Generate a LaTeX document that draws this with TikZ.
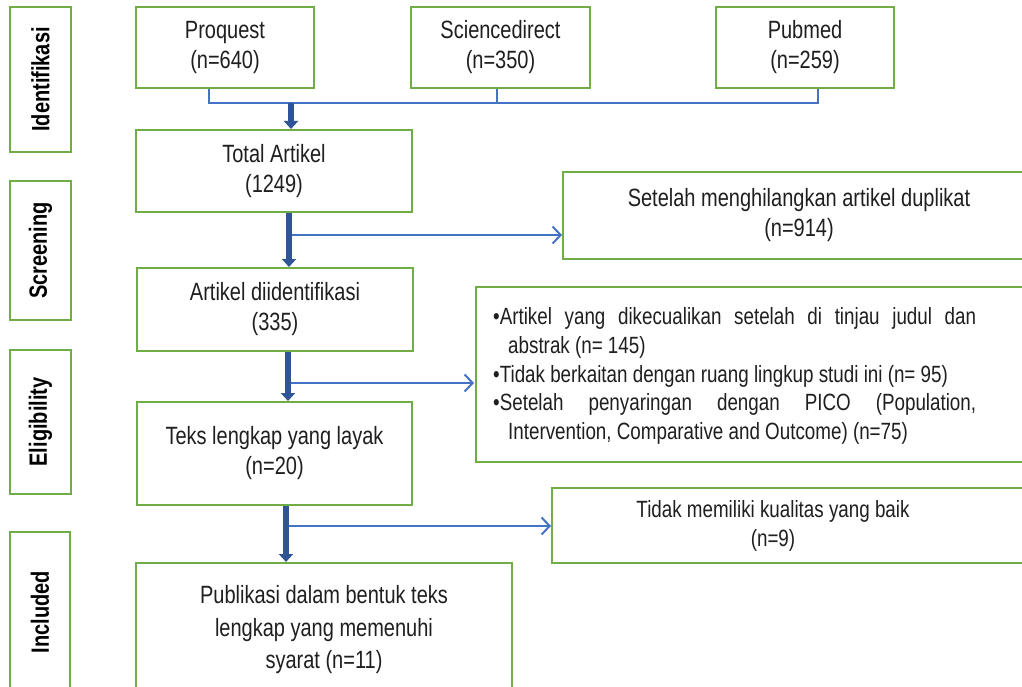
\documentclass[tikz,border=0pt]{standalone}
\usepackage{fontspec}
\setmainfont{Liberation Sans}[FakeStretch=0.8]
\usetikzlibrary{arrows.meta}
\definecolor{boxgreen}{HTML}{70AD47}
\definecolor{lineblue}{HTML}{4472C4}
\definecolor{darkblue}{HTML}{2F5597}
\definecolor{txt}{HTML}{1F1F1F}
\begin{document}
\begin{tikzpicture}[x=1pt,y=-1pt,
 box/.style={draw=boxgreen, line width=2pt, rectangle, inner sep=0pt, align=center, text=txt, font=\fontsize{25}{30}\selectfont},
 stagebox/.style={box, rotate=90, font=\fontsize{25}{30}\selectfont\bfseries, text=black},
 plaintext/.style={inner sep=0pt, text=txt},
 thinline/.style={draw=lineblue, line width=1.5pt},
 thinarrow/.style={draw=lineblue, line width=2pt, -{Straight Barb[length=8pt,width=17pt]}},
 thickarrow/.style={draw=darkblue, line width=6.5pt, -{Triangle[width=14pt,length=8pt]}},
]
\useasboundingbox (0,0) rectangle (1022,687);
\fill[white] (0,0) rectangle (1022,687);
\begin{scope}
\clip (0,0) rectangle (1022,687);
% stage boxes
\node[stagebox, minimum width=145pt, minimum height=61pt] (s1) at (40.5,79.5) {Identifikasi};
\node[stagebox, minimum width=139pt, minimum height=61pt] (s2) at (40.5,250.5) {Screening};
\node[stagebox, minimum width=144pt, minimum height=61pt] (s3) at (40.5,422) {Eligibility};
\node[stagebox, minimum width=160pt, minimum height=60pt] (s4) at (40,612) {Included};
% sources
\node[box, minimum width=178pt, minimum height=81pt] (proq) at (225,47.5) {Proquest\\(n=640)};
\node[box, minimum width=179pt, minimum height=81pt] (sci) at (500.5,47.5) {Sciencedirect\\(n=350)};
\node[box, minimum width=178pt, minimum height=81pt] (pub) at (805,47.5) {Pubmed\\(n=259)};
% main column
\node[box, minimum width=276pt, minimum height=82pt] (total) at (274,171) {Total Artikel\\(1249)};
\node[box, minimum width=276pt, minimum height=83pt] (art) at (275,309.5) {Artikel diidentifikasi\\(335)};
\node[box, minimum width=275pt, minimum height=103pt] (teks) at (274.5,453.5) {Teks lengkap yang layak\\(n=20)};
\node[box, minimum width=376pt, minimum height=134pt, font=\fontsize{25}{32.5}\selectfont] (pubs) at (324,630) {Publikasi dalam bentuk teks\\lengkap yang memenuhi\\syarat (n=11)};
% right column
\node[box, minimum width=472pt, minimum height=87pt] (setelah) at (799,215.5) {Setelah menghilangkan artikel duplikat\\(n=914)};
\node[box, minimum width=604pt, minimum height=175pt] (excl) at (778,374.5) {};
\node[plaintext, anchor=west, align=left, font=\fontsize{23.5}{28.7}\selectfont] (excltext) at (493,376)
 {\makebox[483pt][s]{•Artikel yang dikecualikan setelah di tinjau judul dan}\\
  \hspace*{15pt}abstrak (n= 145)\\
  •Tidak berkaitan dengan ruang lingkup studi ini (n= 95)\\
  \makebox[483pt][s]{•Setelah penyaringan dengan PICO (Population,}\\
  \hspace*{15pt}Intervention, Comparative and Outcome) (n=75)};
\node[box, minimum width=508pt, minimum height=75pt] (tidak) at (806,525.5) {};
\node[plaintext, align=center, font=\fontsize{23.5}{29}\selectfont] (tidaktext) at (773,526) {Tidak memiliki kualitas yang baik\\(n=9)};
% bus from sources
\coordinate (busA) at (291,103);
\draw[thinline] ([xshift=-16pt]proq.south) |- (busA) -| ([xshift=13pt]pub.south);
\draw[thinline] ([xshift=-3.5pt]sci.south) -- ++(0,15);
% branches
\coordinate (b1) at (289,235);
\coordinate (b2) at (288,383);
\coordinate (b3) at (286,526);
\draw[thinarrow] (b1) -- (b1 -| setelah.west);
\draw[thinarrow] (b2) -- ([xshift=-1pt]b2 -| excl.west);
\draw[thinarrow] (b3) -- (b3 -| tidak.west);
% thick arrows
\draw[thickarrow] (busA) -- (busA |- total.north);
\draw[thickarrow] ([xshift=15pt]total.south) -- ([xshift=14pt]art.north);
\draw[thickarrow] ([xshift=13pt]art.south) -- ([xshift=13.5pt]teks.north);
\draw[thickarrow] ([xshift=11.5pt]teks.south) -- (b3 |- pubs.north);
\end{scope}
\end{tikzpicture}
\end{document}
